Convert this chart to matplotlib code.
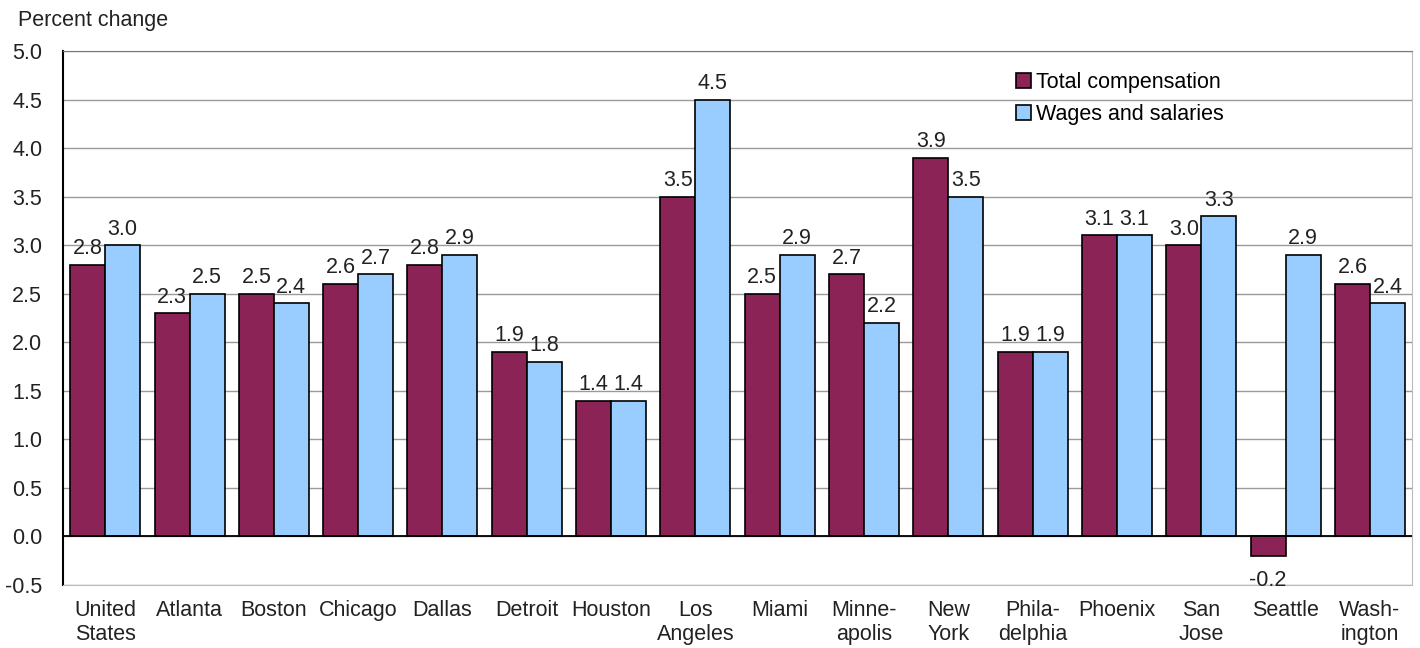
import matplotlib
matplotlib.use('Agg')
import matplotlib.pyplot as plt
import numpy as np

plt.rcParams['font.family'] = ['Liberation Sans', 'DejaVu Sans']

cities = ['United\nStates', 'Atlanta', 'Boston', 'Chicago', 'Dallas', 'Detroit',
          'Houston', 'Los\nAngeles', 'Miami', 'Minne-\napolis', 'New\nYork',
          'Phila-\ndelphia', 'Phoenix', 'San\nJose', 'Seattle', 'Wash-\nington']
total_comp = [2.8, 2.3, 2.5, 2.6, 2.8, 1.9, 1.4, 3.5, 2.5, 2.7, 3.9, 1.9, 3.1, 3.0, -0.2, 2.6]
wages = [3.0, 2.5, 2.4, 2.7, 2.9, 1.8, 1.4, 4.5, 2.9, 2.2, 3.5, 1.9, 3.1, 3.3, 2.9, 2.4]
yticks = [-0.5, 0.0, 0.5, 1.0, 1.5, 2.0, 2.5, 3.0, 3.5, 4.0, 4.5, 5.0]

maroon = '#8C2356'
blue = '#99CCFF'
fs = 15.5

fig = plt.figure(figsize=(14.2, 6.48), dpi=100)
ax = fig.add_axes([0.0444, 0.0972, 0.95, 0.8241])

x = np.arange(len(cities))
w = 0.415
b1 = ax.bar(x - w / 2, total_comp, w, color=maroon, edgecolor='black', linewidth=1.2,
            label='Total compensation', zorder=3)
b2 = ax.bar(x + w / 2, wages, w, color=blue, edgecolor='black', linewidth=1.2,
            label='Wages and salaries', zorder=3)

for bars in (b1, b2):
    for r in bars:
        v = r.get_height()
        cx = r.get_x() + r.get_width() / 2
        if v >= 0:
            ax.annotate('%.1f' % v, (cx, v), xytext=(0, 4), textcoords='offset points',
                        ha='center', va='bottom', fontsize=fs, color='#222222')
        else:
            ax.annotate('%.1f' % v, (cx, v), xytext=(0, -10), textcoords='offset points',
                        ha='center', va='top', fontsize=fs, color='#222222')

ax.set_xlim(-0.5, len(cities) - 0.5)
ax.set_ylim(-0.5, 5.0)
ax.set_yticks(yticks)
ax.set_yticklabels(['%.1f' % t for t in yticks], fontsize=fs, color='#222222')
ax.set_xticks(x)
ax.set_xticklabels(cities, fontsize=fs, color='#222222', linespacing=1.15)
ax.tick_params(axis='both', length=0)
ax.tick_params(axis='y', pad=15)
ax.tick_params(axis='x', pad=11)

ax.yaxis.grid(True, color='#9a9a9a', linewidth=1.0, zorder=0)
ax.set_axisbelow(True)
ax.axhline(0, color='black', linewidth=1.3, zorder=4)

ax.spines['left'].set_color('black')
ax.spines['left'].set_linewidth(1.5)
ax.spines['top'].set_color('#777777')
ax.spines['top'].set_linestyle((0, (2, 1)))
ax.spines['right'].set_color('#bbbbbb')
ax.spines['right'].set_linestyle((0, (2, 1)))
ax.spines['bottom'].set_color('#bbbbbb')
ax.spines['bottom'].set_linestyle((0, (2, 1)))

fig.text(0.0127, 0.968, 'Percent change', fontsize=fs, color='#222222', va='center')

ax.legend(loc='upper left', bbox_to_anchor=(0.7, 0.977), frameon=False, fontsize=fs,
          handlelength=0.7, handleheight=0.7, handletextpad=0.25, labelspacing=0.5,
          borderaxespad=0)

fig.savefig('out.png', dpi=100)
